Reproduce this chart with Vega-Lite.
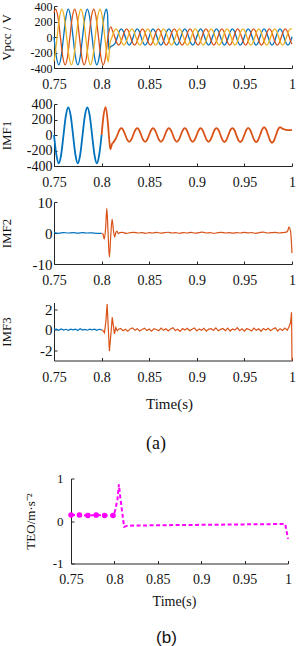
{
"$schema": "https://vega.github.io/schema/vega-lite/v6.json",
"padding": {"left": 0, "top": 0, "right": 0, "bottom": 0},
"config": {
  "view": {"stroke": null},
  "font": "Liberation Serif",
  "axis": {"grid": false, "domainColor": "#262626", "tickColor": "#262626", "labelColor": "#111", "titleColor": "#111", "labelFont": "Liberation Serif", "titleFont": "Liberation Serif", "titleFontWeight": "normal", "labelFlush": false, "labelOverlap": false, "tickSize": -3, "domainWidth": 1, "tickWidth": 1},
  "axisX": {"labelFontSize": 14, "labelPadding": 12.5},
  "axisY": {"labelPadding": 5, "titlePadding": 15, "minExtent": 26, "maxExtent": 26, "titleFontSize": 13, "labelFontSize": 14},
  "title": {"font": "Liberation Serif", "fontWeight": "normal", "color": "#111"}
},
"datasets": {
"v1": [
{"t":0.75,"v":0,"s":"a"},{"t":0.7525,"v":-255,"s":"a"},{"t":0.755,"v":-360,"s":"a"},{"t":0.7575,"v":-255,"s":"a"},{"t":0.76,"v":0,"s":"a"},{"t":0.7625,"v":255,"s":"a"},{"t":0.765,"v":360,"s":"a"},{"t":0.7675,"v":255,"s":"a"},{"t":0.77,"v":0,"s":"a"},{"t":0.7725,"v":-255,"s":"a"},{"t":0.775,"v":-360,"s":"a"},{"t":0.7775,"v":-255,"s":"a"},{"t":0.78,"v":0,"s":"a"},{"t":0.7825,"v":255,"s":"a"},{"t":0.785,"v":360,"s":"a"},{"t":0.7875,"v":255,"s":"a"},{"t":0.79,"v":0,"s":"a"},{"t":0.7925,"v":-255,"s":"a"},{"t":0.795,"v":-360,"s":"a"},{"t":0.7975,"v":-255,"s":"a"},{"t":0.8,"v":0,"s":"a"},{"t":0.8025,"v":255,"s":"a"},{"t":0.805,"v":360,"s":"a"},{"t":0.8062,"v":300,"s":"a"},{"t":0.8075,"v":-160,"s":"a"},{"t":0.8095,"v":-125,"s":"a"},{"t":0.8124,"v":-105,"s":"a"},{"t":0.8145,"v":-74,"s":"a"},{"t":0.8166,"v":0,"s":"a"},{"t":0.8186,"v":74,"s":"a"},
{"t":0.8207,"v":105,"s":"a"},{"t":0.8228,"v":74,"s":"a"},{"t":0.8249,"v":0,"s":"a"},{"t":0.827,"v":-74,"s":"a"},{"t":0.829,"v":-105,"s":"a"},{"t":0.8311,"v":-74,"s":"a"},{"t":0.8332,"v":0,"s":"a"},{"t":0.8353,"v":74,"s":"a"},
{"t":0.8374,"v":105,"s":"a"},{"t":0.8395,"v":74,"s":"a"},{"t":0.8415,"v":0,"s":"a"},{"t":0.8436,"v":-74,"s":"a"},{"t":0.8457,"v":-105,"s":"a"},{"t":0.8478,"v":-74,"s":"a"},{"t":0.8499,"v":0,"s":"a"},{"t":0.852,"v":74,"s":"a"},
{"t":0.854,"v":105,"s":"a"},{"t":0.8561,"v":74,"s":"a"},{"t":0.8582,"v":0,"s":"a"},{"t":0.8603,"v":-74,"s":"a"},{"t":0.8624,"v":-105,"s":"a"},{"t":0.8644,"v":-74,"s":"a"},{"t":0.8665,"v":0,"s":"a"},{"t":0.8686,"v":74,"s":"a"},
{"t":0.8707,"v":105,"s":"a"},{"t":0.8728,"v":74,"s":"a"},{"t":0.8749,"v":0,"s":"a"},{"t":0.877,"v":-74,"s":"a"},{"t":0.879,"v":-105,"s":"a"},{"t":0.8811,"v":-74,"s":"a"},{"t":0.8832,"v":0,"s":"a"},{"t":0.8853,"v":74,"s":"a"},
{"t":0.8874,"v":105,"s":"a"},{"t":0.8895,"v":74,"s":"a"},{"t":0.8915,"v":0,"s":"a"},{"t":0.8936,"v":-74,"s":"a"},{"t":0.8957,"v":-105,"s":"a"},{"t":0.8978,"v":-74,"s":"a"},{"t":0.8999,"v":0,"s":"a"},{"t":0.902,"v":74,"s":"a"},
{"t":0.904,"v":105,"s":"a"},{"t":0.9061,"v":74,"s":"a"},{"t":0.9082,"v":0,"s":"a"},{"t":0.9103,"v":-74,"s":"a"},{"t":0.9124,"v":-105,"s":"a"},{"t":0.9144,"v":-74,"s":"a"},{"t":0.9165,"v":0,"s":"a"},{"t":0.9186,"v":74,"s":"a"},
{"t":0.9207,"v":105,"s":"a"},{"t":0.9228,"v":74,"s":"a"},{"t":0.9249,"v":0,"s":"a"},{"t":0.927,"v":-74,"s":"a"},{"t":0.929,"v":-105,"s":"a"},{"t":0.9311,"v":-74,"s":"a"},{"t":0.9332,"v":0,"s":"a"},{"t":0.9353,"v":74,"s":"a"},
{"t":0.9374,"v":105,"s":"a"},{"t":0.9395,"v":74,"s":"a"},{"t":0.9415,"v":0,"s":"a"},{"t":0.9436,"v":-74,"s":"a"},{"t":0.9457,"v":-105,"s":"a"},{"t":0.9478,"v":-74,"s":"a"},{"t":0.9499,"v":0,"s":"a"},{"t":0.952,"v":74,"s":"a"},
{"t":0.954,"v":105,"s":"a"},{"t":0.9561,"v":74,"s":"a"},{"t":0.9582,"v":0,"s":"a"},{"t":0.9603,"v":-74,"s":"a"},{"t":0.9624,"v":-105,"s":"a"},{"t":0.9644,"v":-74,"s":"a"},{"t":0.9665,"v":0,"s":"a"},{"t":0.9686,"v":74,"s":"a"},
{"t":0.9707,"v":105,"s":"a"},{"t":0.9728,"v":74,"s":"a"},{"t":0.9749,"v":0,"s":"a"},{"t":0.977,"v":-74,"s":"a"},{"t":0.979,"v":-105,"s":"a"},{"t":0.9811,"v":-74,"s":"a"},{"t":0.9832,"v":0,"s":"a"},{"t":0.9853,"v":74,"s":"a"},
{"t":0.9874,"v":105,"s":"a"},{"t":0.9895,"v":74,"s":"a"},{"t":0.9915,"v":0,"s":"a"},{"t":0.9936,"v":-74,"s":"a"},{"t":0.9957,"v":-105,"s":"a"},{"t":0.9978,"v":-74,"s":"a"},{"t":1.0,"v":4,"s":"a"},
{"t":0.75,"v":312,"s":"b"},{"t":0.7517,"v":360,"s":"b"},{"t":0.7542,"v":255,"s":"b"},{"t":0.7567,"v":0,"s":"b"},{"t":0.7592,"v":-255,"s":"b"},{"t":0.7617,"v":-360,"s":"b"},{"t":0.7642,"v":-255,"s":"b"},{"t":0.7667,"v":0,"s":"b"},{"t":0.7692,"v":255,"s":"b"},{"t":0.7717,"v":360,"s":"b"},{"t":0.7742,"v":255,"s":"b"},{"t":0.7767,"v":0,"s":"b"},{"t":0.7792,"v":-255,"s":"b"},{"t":0.7817,"v":-360,"s":"b"},{"t":0.7842,"v":-255,"s":"b"},{"t":0.7867,"v":0,"s":"b"},{"t":0.7892,"v":255,"s":"b"},{"t":0.7917,"v":360,"s":"b"},{"t":0.7942,"v":255,"s":"b"},{"t":0.7967,"v":0,"s":"b"},{"t":0.7992,"v":-255,"s":"b"},{"t":0.8017,"v":-360,"s":"b"},{"t":0.8042,"v":-255,"s":"b"},{"t":0.8067,"v":0,"s":"b"},{"t":0.8096,"v":130,"s":"b"},{"t":0.8117,"v":74,"s":"b"},{"t":0.8138,"v":0,"s":"b"},{"t":0.8159,"v":-74,"s":"b"},{"t":0.818,"v":-105,"s":"b"},{"t":0.82,"v":-74,"s":"b"},{"t":0.8221,"v":0,"s":"b"},{"t":0.8242,"v":74,"s":"b"},
{"t":0.8263,"v":105,"s":"b"},{"t":0.8284,"v":74,"s":"b"},{"t":0.8304,"v":0,"s":"b"},{"t":0.8325,"v":-74,"s":"b"},{"t":0.8346,"v":-105,"s":"b"},{"t":0.8367,"v":-74,"s":"b"},{"t":0.8388,"v":0,"s":"b"},{"t":0.8409,"v":74,"s":"b"},
{"t":0.8429,"v":105,"s":"b"},{"t":0.845,"v":74,"s":"b"},{"t":0.8471,"v":0,"s":"b"},{"t":0.8492,"v":-74,"s":"b"},{"t":0.8513,"v":-105,"s":"b"},{"t":0.8533,"v":-74,"s":"b"},{"t":0.8554,"v":0,"s":"b"},{"t":0.8575,"v":74,"s":"b"},
{"t":0.8596,"v":105,"s":"b"},{"t":0.8617,"v":74,"s":"b"},{"t":0.8638,"v":0,"s":"b"},{"t":0.8659,"v":-74,"s":"b"},{"t":0.8679,"v":-105,"s":"b"},{"t":0.87,"v":-74,"s":"b"},{"t":0.8721,"v":0,"s":"b"},{"t":0.8742,"v":74,"s":"b"},
{"t":0.8763,"v":105,"s":"b"},{"t":0.8784,"v":74,"s":"b"},{"t":0.8804,"v":0,"s":"b"},{"t":0.8825,"v":-74,"s":"b"},{"t":0.8846,"v":-105,"s":"b"},{"t":0.8867,"v":-74,"s":"b"},{"t":0.8888,"v":0,"s":"b"},{"t":0.8909,"v":74,"s":"b"},
{"t":0.8929,"v":105,"s":"b"},{"t":0.895,"v":74,"s":"b"},{"t":0.8971,"v":0,"s":"b"},{"t":0.8992,"v":-74,"s":"b"},{"t":0.9013,"v":-105,"s":"b"},{"t":0.9033,"v":-74,"s":"b"},{"t":0.9054,"v":0,"s":"b"},{"t":0.9075,"v":74,"s":"b"},
{"t":0.9096,"v":105,"s":"b"},{"t":0.9117,"v":74,"s":"b"},{"t":0.9138,"v":0,"s":"b"},{"t":0.9159,"v":-74,"s":"b"},{"t":0.9179,"v":-105,"s":"b"},{"t":0.92,"v":-74,"s":"b"},{"t":0.9221,"v":0,"s":"b"},{"t":0.9242,"v":74,"s":"b"},
{"t":0.9263,"v":105,"s":"b"},{"t":0.9284,"v":74,"s":"b"},{"t":0.9304,"v":0,"s":"b"},{"t":0.9325,"v":-74,"s":"b"},{"t":0.9346,"v":-105,"s":"b"},{"t":0.9367,"v":-74,"s":"b"},{"t":0.9388,"v":0,"s":"b"},{"t":0.9409,"v":74,"s":"b"},
{"t":0.9429,"v":105,"s":"b"},{"t":0.945,"v":74,"s":"b"},{"t":0.9471,"v":0,"s":"b"},{"t":0.9492,"v":-74,"s":"b"},{"t":0.9513,"v":-105,"s":"b"},{"t":0.9533,"v":-74,"s":"b"},{"t":0.9554,"v":0,"s":"b"},{"t":0.9575,"v":74,"s":"b"},
{"t":0.9596,"v":105,"s":"b"},{"t":0.9617,"v":74,"s":"b"},{"t":0.9638,"v":0,"s":"b"},{"t":0.9659,"v":-74,"s":"b"},{"t":0.9679,"v":-105,"s":"b"},{"t":0.97,"v":-74,"s":"b"},{"t":0.9721,"v":0,"s":"b"},{"t":0.9742,"v":74,"s":"b"},
{"t":0.9763,"v":105,"s":"b"},{"t":0.9784,"v":74,"s":"b"},{"t":0.9804,"v":0,"s":"b"},{"t":0.9825,"v":-74,"s":"b"},{"t":0.9846,"v":-105,"s":"b"},{"t":0.9867,"v":-74,"s":"b"},{"t":0.9888,"v":0,"s":"b"},{"t":0.9909,"v":74,"s":"b"},
{"t":0.9929,"v":105,"s":"b"},{"t":0.995,"v":74,"s":"b"},{"t":0.9971,"v":0,"s":"b"},{"t":0.9992,"v":-74,"s":"b"},{"t":1.0,"v":-90,"s":"b"},
{"t":0.75,"v":-312,"s":"c"},{"t":0.7508,"v":-255,"s":"c"},{"t":0.7533,"v":0,"s":"c"},{"t":0.7558,"v":255,"s":"c"},{"t":0.7583,"v":360,"s":"c"},{"t":0.7608,"v":255,"s":"c"},{"t":0.7633,"v":0,"s":"c"},{"t":0.7658,"v":-255,"s":"c"},{"t":0.7683,"v":-360,"s":"c"},{"t":0.7708,"v":-255,"s":"c"},{"t":0.7733,"v":0,"s":"c"},{"t":0.7758,"v":255,"s":"c"},{"t":0.7783,"v":360,"s":"c"},{"t":0.7808,"v":255,"s":"c"},{"t":0.7833,"v":0,"s":"c"},{"t":0.7858,"v":-255,"s":"c"},{"t":0.7883,"v":-360,"s":"c"},{"t":0.7908,"v":-255,"s":"c"},{"t":0.7933,"v":0,"s":"c"},{"t":0.7958,"v":255,"s":"c"},{"t":0.7983,"v":360,"s":"c"},{"t":0.8008,"v":255,"s":"c"},{"t":0.8033,"v":0,"s":"c"},{"t":0.8058,"v":-255,"s":"c"},{"t":0.807,"v":-320,"s":"c"},{"t":0.8089,"v":-74,"s":"c"},{"t":0.811,"v":0,"s":"c"},{"t":0.8131,"v":74,"s":"c"},
{"t":0.8151,"v":105,"s":"c"},{"t":0.8172,"v":74,"s":"c"},{"t":0.8193,"v":0,"s":"c"},{"t":0.8214,"v":-74,"s":"c"},{"t":0.8235,"v":-105,"s":"c"},{"t":0.8255,"v":-74,"s":"c"},{"t":0.8276,"v":0,"s":"c"},{"t":0.8297,"v":74,"s":"c"},
{"t":0.8318,"v":105,"s":"c"},{"t":0.8339,"v":74,"s":"c"},{"t":0.836,"v":0,"s":"c"},{"t":0.8381,"v":-74,"s":"c"},{"t":0.8401,"v":-105,"s":"c"},{"t":0.8422,"v":-74,"s":"c"},{"t":0.8443,"v":0,"s":"c"},{"t":0.8464,"v":74,"s":"c"},
{"t":0.8485,"v":105,"s":"c"},{"t":0.8506,"v":74,"s":"c"},{"t":0.8526,"v":0,"s":"c"},{"t":0.8547,"v":-74,"s":"c"},{"t":0.8568,"v":-105,"s":"c"},{"t":0.8589,"v":-74,"s":"c"},{"t":0.861,"v":0,"s":"c"},{"t":0.8631,"v":74,"s":"c"},
{"t":0.8651,"v":105,"s":"c"},{"t":0.8672,"v":74,"s":"c"},{"t":0.8693,"v":0,"s":"c"},{"t":0.8714,"v":-74,"s":"c"},{"t":0.8735,"v":-105,"s":"c"},{"t":0.8755,"v":-74,"s":"c"},{"t":0.8776,"v":0,"s":"c"},{"t":0.8797,"v":74,"s":"c"},
{"t":0.8818,"v":105,"s":"c"},{"t":0.8839,"v":74,"s":"c"},{"t":0.886,"v":0,"s":"c"},{"t":0.8881,"v":-74,"s":"c"},{"t":0.8901,"v":-105,"s":"c"},{"t":0.8922,"v":-74,"s":"c"},{"t":0.8943,"v":0,"s":"c"},{"t":0.8964,"v":74,"s":"c"},
{"t":0.8985,"v":105,"s":"c"},{"t":0.9006,"v":74,"s":"c"},{"t":0.9026,"v":0,"s":"c"},{"t":0.9047,"v":-74,"s":"c"},{"t":0.9068,"v":-105,"s":"c"},{"t":0.9089,"v":-74,"s":"c"},{"t":0.911,"v":0,"s":"c"},{"t":0.9131,"v":74,"s":"c"},
{"t":0.9151,"v":105,"s":"c"},{"t":0.9172,"v":74,"s":"c"},{"t":0.9193,"v":0,"s":"c"},{"t":0.9214,"v":-74,"s":"c"},{"t":0.9235,"v":-105,"s":"c"},{"t":0.9255,"v":-74,"s":"c"},{"t":0.9276,"v":0,"s":"c"},{"t":0.9297,"v":74,"s":"c"},
{"t":0.9318,"v":105,"s":"c"},{"t":0.9339,"v":74,"s":"c"},{"t":0.936,"v":0,"s":"c"},{"t":0.9381,"v":-74,"s":"c"},{"t":0.9401,"v":-105,"s":"c"},{"t":0.9422,"v":-74,"s":"c"},{"t":0.9443,"v":0,"s":"c"},{"t":0.9464,"v":74,"s":"c"},
{"t":0.9485,"v":105,"s":"c"},{"t":0.9506,"v":74,"s":"c"},{"t":0.9526,"v":0,"s":"c"},{"t":0.9547,"v":-74,"s":"c"},{"t":0.9568,"v":-105,"s":"c"},{"t":0.9589,"v":-74,"s":"c"},{"t":0.961,"v":0,"s":"c"},{"t":0.9631,"v":74,"s":"c"},
{"t":0.9651,"v":105,"s":"c"},{"t":0.9672,"v":74,"s":"c"},{"t":0.9693,"v":0,"s":"c"},{"t":0.9714,"v":-74,"s":"c"},{"t":0.9735,"v":-105,"s":"c"},{"t":0.9755,"v":-74,"s":"c"},{"t":0.9776,"v":0,"s":"c"},{"t":0.9797,"v":74,"s":"c"},
{"t":0.9818,"v":105,"s":"c"},{"t":0.9839,"v":74,"s":"c"},{"t":0.986,"v":0,"s":"c"},{"t":0.9881,"v":-74,"s":"c"},{"t":0.9901,"v":-105,"s":"c"},{"t":0.9922,"v":-74,"s":"c"},{"t":0.9943,"v":0,"s":"c"},{"t":0.9964,"v":74,"s":"c"},
{"t":0.9985,"v":105,"s":"c"},{"t":1.0,"v":100,"s":"c"}
],
"imf1": [
{"t":0.75,"v":0,"s":"a"},{"t":0.7525,"v":-255,"s":"a"},{"t":0.755,"v":-365,"s":"a"},{"t":0.7575,"v":-255,"s":"a"},{"t":0.76,"v":0,"s":"a"},{"t":0.7625,"v":252,"s":"a"},{"t":0.765,"v":355,"s":"a"},{"t":0.7675,"v":252,"s":"a"},{"t":0.77,"v":0,"s":"a"},{"t":0.7725,"v":-255,"s":"a"},{"t":0.775,"v":-365,"s":"a"},{"t":0.7775,"v":-255,"s":"a"},{"t":0.78,"v":0,"s":"a"},{"t":0.7825,"v":252,"s":"a"},{"t":0.785,"v":355,"s":"a"},{"t":0.7875,"v":252,"s":"a"},{"t":0.79,"v":0,"s":"a"},{"t":0.7925,"v":-255,"s":"a"},{"t":0.795,"v":-365,"s":"a"},{"t":0.7975,"v":-255,"s":"a"},{"t":0.8,"v":0,"s":"a"},
{"t":0.8,"v":0,"s":"b"},{"t":0.8021,"v":255,"s":"b"},{"t":0.8043,"v":360,"s":"b"},{"t":0.8065,"v":170,"s":"b"},{"t":0.808,"v":-60,"s":"b"},{"t":0.8093,"v":-185,"s":"b"},{"t":0.8108,"v":-120,"s":"b"},{"t":0.8124,"v":-95,"s":"b"},{"t":0.8145,"v":-55,"s":"b"},{"t":0.8166,"v":0,"s":"b"},{"t":0.8186,"v":62,"s":"b"},
{"t":0.8207,"v":88,"s":"b"},{"t":0.8228,"v":62,"s":"b"},{"t":0.8249,"v":0,"s":"b"},{"t":0.827,"v":-62,"s":"b"},{"t":0.829,"v":-88,"s":"b"},{"t":0.8311,"v":-62,"s":"b"},{"t":0.8332,"v":0,"s":"b"},{"t":0.8353,"v":62,"s":"b"},
{"t":0.8374,"v":88,"s":"b"},{"t":0.8395,"v":62,"s":"b"},{"t":0.8415,"v":0,"s":"b"},{"t":0.8436,"v":-62,"s":"b"},{"t":0.8457,"v":-88,"s":"b"},{"t":0.8478,"v":-62,"s":"b"},{"t":0.8499,"v":0,"s":"b"},{"t":0.852,"v":62,"s":"b"},
{"t":0.854,"v":88,"s":"b"},{"t":0.8561,"v":62,"s":"b"},{"t":0.8582,"v":0,"s":"b"},{"t":0.8603,"v":-62,"s":"b"},{"t":0.8624,"v":-88,"s":"b"},{"t":0.8644,"v":-62,"s":"b"},{"t":0.8665,"v":0,"s":"b"},{"t":0.8686,"v":62,"s":"b"},
{"t":0.8707,"v":88,"s":"b"},{"t":0.8728,"v":62,"s":"b"},{"t":0.8749,"v":0,"s":"b"},{"t":0.877,"v":-62,"s":"b"},{"t":0.879,"v":-88,"s":"b"},{"t":0.8811,"v":-62,"s":"b"},{"t":0.8832,"v":0,"s":"b"},{"t":0.8853,"v":62,"s":"b"},
{"t":0.8874,"v":88,"s":"b"},{"t":0.8895,"v":62,"s":"b"},{"t":0.8915,"v":0,"s":"b"},{"t":0.8936,"v":-62,"s":"b"},{"t":0.8957,"v":-88,"s":"b"},{"t":0.8978,"v":-62,"s":"b"},{"t":0.8999,"v":0,"s":"b"},{"t":0.902,"v":62,"s":"b"},
{"t":0.904,"v":88,"s":"b"},{"t":0.9061,"v":62,"s":"b"},{"t":0.9082,"v":0,"s":"b"},{"t":0.9103,"v":-62,"s":"b"},{"t":0.9124,"v":-88,"s":"b"},{"t":0.9144,"v":-62,"s":"b"},{"t":0.9165,"v":0,"s":"b"},{"t":0.9186,"v":64,"s":"b"},
{"t":0.9207,"v":90,"s":"b"},{"t":0.9228,"v":64,"s":"b"},{"t":0.9249,"v":0,"s":"b"},{"t":0.927,"v":-64,"s":"b"},{"t":0.929,"v":-90,"s":"b"},{"t":0.9311,"v":-64,"s":"b"},{"t":0.9332,"v":0,"s":"b"},{"t":0.9353,"v":64,"s":"b"},
{"t":0.9374,"v":90,"s":"b"},{"t":0.9395,"v":64,"s":"b"},{"t":0.9415,"v":0,"s":"b"},{"t":0.9436,"v":-64,"s":"b"},{"t":0.9457,"v":-90,"s":"b"},{"t":0.9478,"v":-64,"s":"b"},{"t":0.9499,"v":0,"s":"b"},{"t":0.952,"v":64,"s":"b"},
{"t":0.954,"v":92,"s":"b"},{"t":0.9561,"v":65,"s":"b"},{"t":0.9582,"v":0,"s":"b"},{"t":0.9603,"v":-65,"s":"b"},{"t":0.9624,"v":-92,"s":"b"},{"t":0.9644,"v":-65,"s":"b"},{"t":0.9665,"v":0,"s":"b"},{"t":0.9686,"v":70,"s":"b"},
{"t":0.9707,"v":100,"s":"b"},{"t":0.9728,"v":71,"s":"b"},{"t":0.9749,"v":0,"s":"b"},{"t":0.977,"v":-71,"s":"b"},{"t":0.979,"v":-100,"s":"b"},{"t":0.9811,"v":-71,"s":"b"},{"t":0.9832,"v":0,"s":"b"},{"t":0.9853,"v":71,"s":"b"},
{"t":0.9874,"v":100,"s":"b"},{"t":0.9895,"v":85,"s":"b"},{"t":0.9915,"v":74,"s":"b"},{"t":0.994,"v":66,"s":"b"},{"t":0.997,"v":63,"s":"b"},{"t":1.0,"v":66,"s":"b"}
],
"imf2": [
{"t":0.75,"v":0.1,"s":"a"},{"t":0.755,"v":-0.1,"s":"a"},{"t":0.76,"v":0.15,"s":"a"},{"t":0.765,"v":0,"s":"a"},{"t":0.77,"v":0.1,"s":"a"},{"t":0.775,"v":-0.05,"s":"a"},{"t":0.78,"v":0.1,"s":"a"},{"t":0.785,"v":0,"s":"a"},{"t":0.79,"v":0.05,"s":"a"},{"t":0.795,"v":-0.1,"s":"a"},{"t":0.8,"v":-0.1,"s":"a"},
{"t":0.8,"v":-0.1,"s":"b"},{"t":0.8015,"v":-0.4,"s":"b"},{"t":0.8028,"v":-2.0,"s":"b"},{"t":0.8042,"v":1.5,"s":"b"},{"t":0.8055,"v":8.0,"s":"b"},{"t":0.8068,"v":0,"s":"b"},{"t":0.8082,"v":-7.8,"s":"b"},{"t":0.8096,"v":-1,"s":"b"},{"t":0.811,"v":4.5,"s":"b"},{"t":0.8124,"v":1.0,"s":"b"},{"t":0.8137,"v":-1.3,"s":"b"},{"t":0.815,"v":0.2,"s":"b"},{"t":0.8162,"v":0.6,"s":"b"},{"t":0.8175,"v":-0.2,"s":"b"},{"t":0.819,"v":0.1,"s":"b"},{"t":0.822,"v":0.2,"s":"b"},{"t":0.826,"v":-0.1,"s":"b"},{"t":0.83,"v":0.1,"s":"b"},{"t":0.834,"v":0.2,"s":"b"},{"t":0.838,"v":0,"s":"b"},{"t":0.842,"v":0.15,"s":"b"},{"t":0.846,"v":-0.1,"s":"b"},{"t":0.85,"v":0.1,"s":"b"},{"t":0.854,"v":0,"s":"b"},{"t":0.858,"v":0.2,"s":"b"},{"t":0.862,"v":-0.05,"s":"b"},{"t":0.866,"v":0.1,"s":"b"},{"t":0.87,"v":0.25,"s":"b"},{"t":0.874,"v":0,"s":"b"},{"t":0.878,"v":0.1,"s":"b"},{"t":0.882,"v":-0.1,"s":"b"},{"t":0.886,"v":0.15,"s":"b"},{"t":0.89,"v":0,"s":"b"},{"t":0.894,"v":0.2,"s":"b"},{"t":0.898,"v":-0.05,"s":"b"},{"t":0.902,"v":0.1,"s":"b"},{"t":0.906,"v":0.3,"s":"b"},{"t":0.91,"v":0,"s":"b"},{"t":0.914,"v":0.1,"s":"b"},{"t":0.918,"v":-0.1,"s":"b"},{"t":0.922,"v":0.1,"s":"b"},{"t":0.926,"v":0.2,"s":"b"},{"t":0.93,"v":0,"s":"b"},{"t":0.934,"v":0.1,"s":"b"},{"t":0.938,"v":-0.05,"s":"b"},{"t":0.942,"v":0.15,"s":"b"},{"t":0.946,"v":0,"s":"b"},{"t":0.95,"v":0.2,"s":"b"},{"t":0.954,"v":0.05,"s":"b"},{"t":0.958,"v":0.1,"s":"b"},{"t":0.962,"v":-0.1,"s":"b"},{"t":0.966,"v":0.15,"s":"b"},{"t":0.97,"v":0.3,"s":"b"},{"t":0.974,"v":0,"s":"b"},{"t":0.978,"v":0.1,"s":"b"},{"t":0.982,"v":0.2,"s":"b"},{"t":0.986,"v":0,"s":"b"},{"t":0.99,"v":0.1,"s":"b"},{"t":0.994,"v":0.3,"s":"b"},{"t":0.9955,"v":0.7,"s":"b"},{"t":0.9968,"v":1.9,"s":"b"},{"t":0.9985,"v":0.5,"s":"b"},{"t":1.0,"v":-6.5,"s":"b"}
],
"imf3": [
{"t":0.75,"v":0,"s":"a"},{"t":0.7525,"v":0.05,"s":"a"},{"t":0.755,"v":-0.05,"s":"a"},{"t":0.7575,"v":0.08,"s":"a"},{"t":0.76,"v":-0.03,"s":"a"},{"t":0.7625,"v":0.04,"s":"a"},{"t":0.765,"v":-0.06,"s":"a"},{"t":0.7675,"v":0.05,"s":"a"},{"t":0.77,"v":-0.02,"s":"a"},{"t":0.7725,"v":0.06,"s":"a"},{"t":0.775,"v":-0.07,"s":"a"},{"t":0.7775,"v":0.1,"s":"a"},{"t":0.78,"v":-0.04,"s":"a"},{"t":0.7825,"v":0.03,"s":"a"},{"t":0.785,"v":-0.05,"s":"a"},{"t":0.7875,"v":0.06,"s":"a"},{"t":0.79,"v":-0.02,"s":"a"},{"t":0.7925,"v":0.05,"s":"a"},{"t":0.795,"v":-0.06,"s":"a"},{"t":0.7975,"v":0.04,"s":"a"},{"t":0.8,"v":0,"s":"a"},
{"t":0.8,"v":0,"s":"b"},{"t":0.8015,"v":-0.1,"s":"b"},{"t":0.803,"v":-0.3,"s":"b"},{"t":0.8045,"v":0.8,"s":"b"},{"t":0.8058,"v":2.5,"s":"b"},{"t":0.807,"v":0.2,"s":"b"},{"t":0.8082,"v":-2.1,"s":"b"},{"t":0.8097,"v":-0.5,"s":"b"},{"t":0.8112,"v":1.2,"s":"b"},{"t":0.8125,"v":0.3,"s":"b"},{"t":0.8135,"v":-0.4,"s":"b"},{"t":0.815,"v":0.2,"s":"b"},{"t":0.8165,"v":-0.1,"s":"b"},{"t":0.818,"v":0.05,"s":"b"},
{"t":0.82,"v":0.12,"s":"b"},{"t":0.8225,"v":-0.1,"s":"b"},{"t":0.825,"v":0.05,"s":"b"},{"t":0.8275,"v":-0.15,"s":"b"},{"t":0.83,"v":0.08,"s":"b"},{"t":0.8325,"v":0.18,"s":"b"},{"t":0.835,"v":-0.06,"s":"b"},{"t":0.8375,"v":0.1,"s":"b"},{"t":0.84,"v":-0.12,"s":"b"},{"t":0.8425,"v":0.03,"s":"b"},{"t":0.845,"v":0.15,"s":"b"},{"t":0.8475,"v":-0.08,"s":"b"},{"t":0.85,"v":0.06,"s":"b"},{"t":0.8525,"v":-0.14,"s":"b"},{"t":0.855,"v":0.1,"s":"b"},{"t":0.8575,"v":0.02,"s":"b"},{"t":0.86,"v":-0.1,"s":"b"},{"t":0.8625,"v":0.16,"s":"b"},{"t":0.865,"v":-0.05,"s":"b"},{"t":0.8675,"v":0.09,"s":"b"},{"t":0.87,"v":-0.13,"s":"b"},{"t":0.8725,"v":0.07,"s":"b"},{"t":0.875,"v":0.2,"s":"b"},{"t":0.8775,"v":-0.08,"s":"b"},{"t":0.88,"v":0.04,"s":"b"},{"t":0.8825,"v":-0.16,"s":"b"},{"t":0.885,"v":0.11,"s":"b"},{"t":0.8875,"v":-0.03,"s":"b"},{"t":0.89,"v":0.14,"s":"b"},{"t":0.8925,"v":-0.09,"s":"b"},{"t":0.895,"v":0.05,"s":"b"},{"t":0.8975,"v":0.17,"s":"b"},{"t":0.9,"v":-0.12,"s":"b"},{"t":0.9025,"v":0.08,"s":"b"},{"t":0.905,"v":-0.06,"s":"b"},{"t":0.9075,"v":0.13,"s":"b"},{"t":0.91,"v":-0.15,"s":"b"},{"t":0.9125,"v":0.06,"s":"b"},{"t":0.915,"v":0.1,"s":"b"},{"t":0.9175,"v":-0.07,"s":"b"},{"t":0.92,"v":0.18,"s":"b"},{"t":0.9225,"v":-0.11,"s":"b"},{"t":0.925,"v":0.03,"s":"b"},{"t":0.9275,"v":0.12,"s":"b"},{"t":0.93,"v":-0.09,"s":"b"},{"t":0.9325,"v":0.15,"s":"b"},{"t":0.935,"v":-0.13,"s":"b"},{"t":0.9375,"v":0.07,"s":"b"},{"t":0.94,"v":-0.04,"s":"b"},{"t":0.9425,"v":0.2,"s":"b"},{"t":0.945,"v":-0.1,"s":"b"},{"t":0.9475,"v":0.08,"s":"b"},{"t":0.95,"v":-0.14,"s":"b"},{"t":0.9525,"v":0.11,"s":"b"},{"t":0.955,"v":0.02,"s":"b"},{"t":0.9575,"v":-0.12,"s":"b"},{"t":0.96,"v":0.16,"s":"b"},{"t":0.9625,"v":-0.06,"s":"b"},{"t":0.965,"v":0.09,"s":"b"},{"t":0.9675,"v":-0.15,"s":"b"},{"t":0.97,"v":0.12,"s":"b"},{"t":0.9725,"v":-0.03,"s":"b"},{"t":0.975,"v":0.14,"s":"b"},{"t":0.9775,"v":-0.1,"s":"b"},{"t":0.98,"v":0.06,"s":"b"},{"t":0.9825,"v":0.18,"s":"b"},{"t":0.985,"v":-0.13,"s":"b"},{"t":0.9875,"v":0.1,"s":"b"},{"t":0.99,"v":-0.08,"s":"b"},{"t":0.9925,"v":0.15,"s":"b"},{"t":0.995,"v":-0.05,"s":"b"},{"t":0.997,"v":0.3,"s":"b"},{"t":0.9985,"v":0.7,"s":"b"},{"t":0.9995,"v":1.7,"s":"b"},{"t":1.0,"v":-3,"s":"b"}
],
"teo": [
{"t":0.75,"v":0.14},{"t":0.76,"v":0.14},{"t":0.77,"v":0.13},{"t":0.78,"v":0.14},{"t":0.79,"v":0.13},{"t":0.7995,"v":0.13},{"t":0.8035,"v":0.5},{"t":0.8052,"v":0.86},{"t":0.8068,"v":0.55},{"t":0.8112,"v":-0.14},{"t":0.815,"v":-0.11},{"t":0.85,"v":-0.1},{"t":0.9,"v":-0.09},{"t":0.95,"v":-0.08},{"t":0.9968,"v":-0.07},{"t":1.0,"v":-0.42}
],
"teo0": [
{"t":0.75,"v":0.14},{"t":0.76,"v":0.14},{"t":0.77,"v":0.13},{"t":0.78,"v":0.14},{"t":0.79,"v":0.13},{"t":0.7995,"v":0.13}
]
},
"concat": [
  {"concat": [
    {"concat": [
      {
        "width": 238, "height": 62,
        "data": {"name": "v1"},
        "mark": {"type": "line", "strokeWidth": 1.3, "interpolate": "monotone"},
        "encoding": {
          "x": {"field": "t", "type": "quantitative", "scale": {"domain": [0.75, 1], "nice": false, "zero": false}, "axis": {"title": null, "values": [0.75, 0.8, 0.85, 0.9, 0.95, 1], "labelExpr": "toString(datum.value)"}},
          "y": {"field": "v", "type": "quantitative", "scale": {"domain": [-400, 400], "nice": false}, "axis": {"title": "Vpcc / V", "values": [-400, -200, 0, 200, 400], "labelExpr": "toString(datum.value)", "labelFontSize": 12}},
          "color": {"field": "s", "type": "nominal", "scale": {"domain": ["a", "b", "c"], "range": ["#0072BD", "#D95319", "#EDB120"]}, "legend": null}
        }
      },
      {
        "width": 238, "height": 62,
        "data": {"name": "imf1"},
        "mark": {"type": "line", "strokeWidth": 1.8, "interpolate": "monotone"},
        "encoding": {
          "x": {"field": "t", "type": "quantitative", "scale": {"domain": [0.75, 1], "nice": false, "zero": false}, "axis": {"title": null, "values": [0.75, 0.8, 0.85, 0.9, 0.95, 1], "labelExpr": "toString(datum.value)"}},
          "y": {"field": "v", "type": "quantitative", "scale": {"domain": [-400, 400], "nice": false}, "axis": {"title": "IMF1", "values": [-400, -200, 0, 200, 400], "labelExpr": "toString(datum.value)"}},
          "color": {"field": "s", "type": "nominal", "scale": {"domain": ["a", "b", "c"], "range": ["#0072BD", "#D95319", "#EDB120"]}, "legend": null}
        }
      },
      {
        "width": 238, "height": 62,
        "data": {"name": "imf2"},
        "mark": {"type": "line", "strokeWidth": 1.2, "interpolate": "monotone"},
        "encoding": {
          "x": {"field": "t", "type": "quantitative", "scale": {"domain": [0.75, 1], "nice": false, "zero": false}, "axis": {"title": null, "values": [0.75, 0.8, 0.85, 0.9, 0.95, 1], "labelExpr": "toString(datum.value)"}},
          "y": {"field": "v", "type": "quantitative", "scale": {"domain": [-10, 10], "nice": false}, "axis": {"title": "IMF2", "values": [-10, 0, 10], "labelExpr": "toString(datum.value)", "labelFontSize": 15}},
          "color": {"field": "s", "type": "nominal", "scale": {"domain": ["a", "b", "c"], "range": ["#0072BD", "#D95319", "#EDB120"]}, "legend": null}
        }
      }
    ], "columns": 1, "spacing": 5, "align": "none"},
    {
      "width": 238, "height": 58,
      "title": {"text": "(a)", "orient": "bottom", "anchor": "middle", "frame": "group", "offset": 24, "dx": -17, "fontSize": 18, "font": "Liberation Serif"},
      "data": {"name": "imf3"},
      "mark": {"type": "line", "strokeWidth": 1.2},
      "encoding": {
        "x": {"field": "t", "type": "quantitative", "scale": {"domain": [0.75, 1], "nice": false, "zero": false}, "axis": {"title": "Time(s)", "titleFontSize": 15, "titlePadding": 12, "titleX": 115, "values": [0.75, 0.8, 0.85, 0.9, 0.95, 1], "labelExpr": "toString(datum.value)"}},
        "y": {"field": "v", "type": "quantitative", "scale": {"domain": [-3, 2.65], "nice": false}, "axis": {"title": "IMF3", "values": [-2, 0, 2], "labelExpr": "toString(datum.value)", "labelFontSize": 15}},
        "color": {"field": "s", "type": "nominal", "scale": {"domain": ["a", "b", "c"], "range": ["#0072BD", "#D95319", "#EDB120"]}, "legend": null}
      }
    }
  ], "columns": 1, "spacing": 13.5, "align": "none"},
  {"hconcat": [
    {"width": 17, "height": 10, "data": {"values": [{"k": 0}]}, "mark": {"type": "point", "opacity": 0}, "encoding": {}},
    {
      "width": 217, "height": 85,
      "title": {"text": "(b)", "orient": "bottom", "anchor": "middle", "frame": "group", "offset": 21, "dx": -13, "fontSize": 17, "font": "Liberation Sans"},
      "layer": [
        {
          "data": {"name": "teo"},
          "mark": {"type": "line", "color": "#FF00FF", "strokeWidth": 2, "strokeDash": [4, 2.5]},
          "encoding": {
            "x": {"field": "t", "type": "quantitative", "scale": {"domain": [0.75, 1], "nice": false, "zero": false}, "axis": {"title": "Time(s)", "titleFontSize": 14, "titlePadding": 8, "titleX": 103, "values": [0.75, 0.8, 0.85, 0.9, 0.95, 1], "labelExpr": "toString(datum.value)", "labelFontSize": 14, "labelPadding": 12}},
            "y": {"field": "v", "type": "quantitative", "scale": {"domain": [-1, 1], "nice": false}, "axis": {"title": "TEO/m·s⁻²", "values": [-1, 0, 1], "labelExpr": "toString(datum.value)", "labelFontSize": 13, "labelPadding": 11, "minExtent": 20, "maxExtent": 20, "titlePadding": 14, "titleFontSize": 13}}
          }
        },
        {
          "data": {"name": "teo0"},
          "mark": {"type": "line", "color": "#FF00FF", "strokeWidth": 5.5, "strokeDash": [0.1, 8.3], "strokeCap": "round"},
          "encoding": {
            "x": {"field": "t", "type": "quantitative"},
            "y": {"field": "v", "type": "quantitative"}
          }
        }
      ]
    }
  ], "spacing": 0, "bounds": "flush"}
],
"columns": 1, "spacing": 19.5, "align": "none"
}
